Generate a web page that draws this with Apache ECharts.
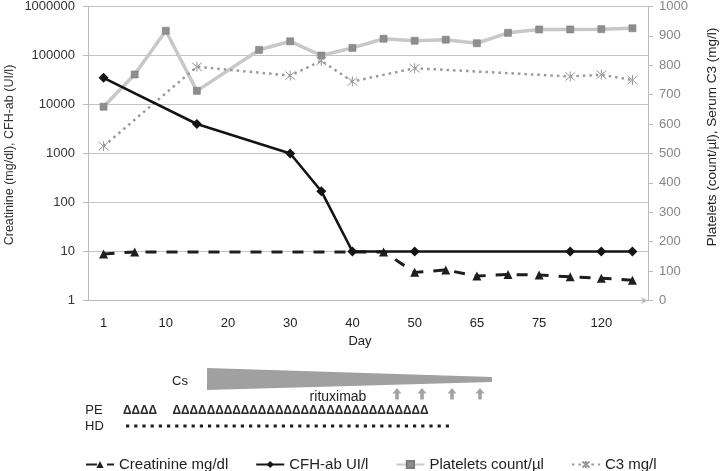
<!DOCTYPE html>
<html>
<head>
<meta charset="utf-8">
<script src="https://cdn.jsdelivr.net/npm/echarts@6/dist/echarts.min.js"></script>
<style>
html,body{margin:0;padding:0;background:#fff;}
#chart{width:720px;height:471px;}
</style>
</head>
<body>
<div id="chart"></div>
<script>
// ---- data ----
const categories = ['1','5','10','15','20','25','30','35','40','45','50','60','65','70','75','90','120','150'];
const creatinine = [8.9, 9.8, null, null, null, null, null, null, null, 9.8, 3.75, 4.2, 3.15, 3.4, 3.3, 3.05, 2.85, 2.6];
const cfhAb = [35000, null, null, 4000, null, null, 1000, 170, 10, null, 10, null, null, null, null, 10, 10, 10];
const platelets = [9000, 41000, 320000, 19000, null, 130000, 195000, 100000, 143000, 220000, 200000, 210000, 178000, 290000, 340000, 340000, 345000, 360000];
const c3 = [525, null, null, 795, null, null, 765, 815, 745, null, 790, null, null, null, null, 762, 768, 750];
const seriesNames = ['Creatinine mg/dl', 'CFH-ab UI/l', 'Platelets count/\u00b5l', 'C3 mg/l'];
const leftTitle = 'Creatinine (mg/dl), CFH-ab (UI/l)';
const rightTitle = 'Platelets (count/\u00b5l), Serum C3 (mg/l)';
const xTitle = 'Day';

const FONT = '"Liberation Sans", Arial, sans-serif';

// width helper for the PE triangle rows
function fitFont(ch, targetAdvance, weight) {
  const c = document.createElement('canvas').getContext('2d');
  c.font = weight + ' 100px ' + FONT;
  const w = c.measureText(ch).width;
  return targetAdvance * 100 / w;
}
const triFont = fitFont('\u0394', 8.55, 'bold');

const chart = echarts.init(document.getElementById('chart'), null, {renderer: 'canvas'});

const arrowXs = [397, 422, 452, 480];
function arrow(cx) {
  return {
    type: 'polygon', silent: true,
    shape: {points: [[cx, 388], [cx + 4.5, 393.5], [cx + 1.8, 393.5], [cx + 1.8, 399.5], [cx - 1.8, 399.5], [cx - 1.8, 393.5], [cx - 4.5, 393.5]]},
    style: {fill: '#a3a3a3'}
  };
}
function txt(text, x, y, size, opts) {
  opts = opts || {};
  return {
    type: 'text', x: x, y: y, rotation: opts.rotation || 0, silent: true,
    style: {
      text: text, fontSize: size, fontFamily: FONT, fontWeight: opts.weight || 'normal',
      fill: opts.color || '#222',
      align: opts.align || 'center', textAlign: opts.align || 'center',
      verticalAlign: 'middle', textVerticalAlign: 'middle'
    }
  };
}

const option = {
  animation: false,
  backgroundColor: '#fff',
  grid: {left: 88, right: 72, top: 6, height: 294.5, containLabel: false},
  legend: {
    data: seriesNames,
    left: 80, top: 452,
    itemWidth: 28, itemHeight: 9, itemGap: 27,
    textStyle: {fontFamily: FONT, fontSize: 15, color: '#222'},
    selectedMode: false
  },
  xAxis: {
    type: 'category',
    data: categories,
    boundaryGap: true,
    axisLine: {lineStyle: {color: '#bcbcbc', width: 1}, symbol: ['none', 'arrow'], symbolSize: [5, 7]},
    axisTick: {interval: 0, length: 5, lineStyle: {color: '#bcbcbc'}},
    axisLabel: {interval: 1, margin: 16, fontFamily: FONT, fontSize: 13, color: '#222'},
    splitLine: {show: false}
  },
  yAxis: [
    {
      type: 'log', logBase: 10, min: 1, max: 1000000,
      axisLine: {show: true, lineStyle: {color: '#bcbcbc'}},
      axisTick: {show: true, length: 5, lineStyle: {color: '#bcbcbc'}},
      axisLabel: {margin: 13, fontFamily: FONT, fontSize: 13, color: '#333',
        formatter: function (v) { return String(Math.round(v)); }},
      splitLine: {show: true, lineStyle: {color: '#c4c4c4', width: 1}},
      minorTick: {show: false}
    },
    {
      type: 'value', min: 0, max: 1000, interval: 100, position: 'right',
      axisLine: {show: true, lineStyle: {color: '#bcbcbc'}},
      axisTick: {show: true, length: 5, lineStyle: {color: '#bcbcbc'}},
      axisLabel: {margin: 11, fontFamily: FONT, fontSize: 13, color: '#858585',
        formatter: function (v) { return String(Math.round(v)); }},
      splitLine: {show: false}
    }
  ],
  series: [
    {
      name: seriesNames[0], type: 'line', yAxisIndex: 0, data: creatinine, connectNulls: true, z: 4,
      symbol: 'triangle', symbolSize: 9,
      itemStyle: {color: '#1e1e1e'},
      lineStyle: {color: '#1e1e1e', width: 3, type: [11, 10]}
    },
    {
      name: seriesNames[1], type: 'line', yAxisIndex: 0, data: cfhAb, connectNulls: true, z: 5,
      symbol: 'diamond', symbolSize: 10,
      itemStyle: {color: '#141414'},
      lineStyle: {color: '#141414', width: 2.6, type: 'solid'}
    },
    {
      name: seriesNames[2], type: 'line', yAxisIndex: 0, data: platelets, connectNulls: true, z: 2,
      symbol: 'rect', symbolSize: 7,
      itemStyle: {color: '#8e8e8e', borderColor: '#7c7c7c', borderWidth: 0.6},
      lineStyle: {color: '#c8c8c8', width: 3.5, type: 'solid'}
    },
    {
      name: seriesNames[3], type: 'line', yAxisIndex: 1, data: c3, connectNulls: true, z: 3,
      symbol: 'path://M0,0L10,10M10,0L0,10M5,-1L5,11', symbolSize: 10,
      itemStyle: {color: '#9a9a9a', borderColor: '#9a9a9a', borderWidth: 1},
      lineStyle: {color: '#9a9a9a', width: 2.5, type: [2.5, 4]}
    }
  ],
  graphic: [
    txt(leftTitle, 10, 155, 12.5, {rotation: Math.PI / 2, color: '#333'}),
    txt(rightTitle, 712, 137, 13.5, {rotation: Math.PI / 2, color: '#222'}),
    txt(xTitle, 360, 341, 13, {color: '#222'}),
    // Cs wedge
    {type: 'polygon', silent: true, shape: {points: [[207, 368], [492, 377], [492, 382], [207, 390]]}, style: {fill: '#a0a0a0'}},
    txt('Cs', 180, 381, 13),
    txt('rituximab', 338, 397, 14),
    arrow(arrowXs[0]), arrow(arrowXs[1]), arrow(arrowXs[2]), arrow(arrowXs[3]),
    txt('PE', 94, 410.5, 13),
    txt('HD', 94.5, 426, 13),
    txt('\u0394'.repeat(4), 123, 410.5, triFont, {align: 'left', weight: 'bold', color: '#2a2a2a'}),
    txt('\u0394'.repeat(30), 172.5, 410.5, triFont, {align: 'left', weight: 'bold', color: '#2a2a2a'}),
    {type: 'line', silent: true, shape: {x1: 126, y1: 426, x2: 450, y2: 426},
      style: {stroke: '#1e1e1e', lineWidth: 3, lineDash: [3.2, 5]}}
  ]
};
chart.setOption(option);
</script>
</body>
</html>
